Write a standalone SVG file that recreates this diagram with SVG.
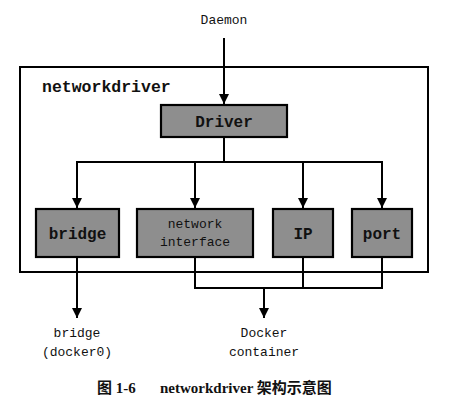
<svg xmlns="http://www.w3.org/2000/svg" width="451" height="410" viewBox="0 0 451 410">
<defs>
<marker id="arr" viewBox="0 0 10 10" refX="10" refY="5" markerWidth="5" markerHeight="5" orient="auto" markerUnits="strokeWidth">
<path d="M0,0 L10,5 L0,10 z" fill="#000"/>
</marker>
<style>
.box{fill:#8e8e8e;stroke:#000;stroke-width:2.2}
.lbl{font-family:"Liberation Mono","DejaVu Sans Mono",monospace;font-size:16px;font-weight:bold;fill:#111;text-anchor:middle}
.sm{font-family:"Liberation Mono","DejaVu Sans Mono",monospace;font-size:13px;fill:#111;text-anchor:middle}
.ln{fill:none;stroke:#000;stroke-width:2}
</style>
</defs>
<rect width="451" height="410" fill="#fff"/>
<g id="networkdriver">
<rect x="20" y="67" width="408" height="205" fill="none" stroke="#000" stroke-width="2"/>
<text x="42" y="92" style="font-family:'Liberation Mono','DejaVu Sans Mono',monospace;font-size:16.5px;font-weight:bold;fill:#111">networkdriver</text>
</g>
<g id="daemon"><text class="sm" x="224" y="24">Daemon</text></g>
<g id="driver"><rect class="box" x="161" y="105" width="126" height="32"/><text class="lbl" x="224" y="127">Driver</text></g>
<g id="bridge"><rect class="box" x="36" y="209" width="83" height="48"/><text class="lbl" x="77.5" y="239">bridge</text></g>
<g id="netif"><rect class="box" x="137" y="209" width="116" height="48"/><text class="sm" x="195" y="228">network</text><text class="sm" x="195" y="246">interface</text></g>
<g id="ip"><rect class="box" x="273" y="209" width="60" height="48"/><text class="lbl" x="303" y="239">IP</text></g>
<g id="port"><rect class="box" x="352" y="209" width="60" height="48"/><text class="lbl" x="382" y="239">port</text></g>
<g id="bridge0"><text class="sm" x="77" y="337">bridge</text><text class="sm" x="77" y="356">(docker0)</text></g>
<g id="container"><text class="sm" x="264" y="337">Docker</text><text class="sm" x="264" y="356">container</text></g>
<g id="connectors">
<line class="ln" x1="224" y1="38" x2="224" y2="104" marker-end="url(#arr)"/>
<polyline class="ln" points="224,137 224,162"/>
<line class="ln" x1="76" y1="162" x2="383" y2="162"/>
<line class="ln" x1="77" y1="162" x2="77" y2="208" marker-end="url(#arr)"/>
<line class="ln" x1="195" y1="162" x2="195" y2="208" marker-end="url(#arr)"/>
<line class="ln" x1="303" y1="162" x2="303" y2="208" marker-end="url(#arr)"/>
<line class="ln" x1="382" y1="162" x2="382" y2="208" marker-end="url(#arr)"/>
<line class="ln" x1="77" y1="257" x2="77" y2="318" marker-end="url(#arr)"/>
<polyline class="ln" points="195,257 195,288 382,288 382,257"/>
<line class="ln" x1="303" y1="257" x2="303" y2="288"/>
<line class="ln" x1="264" y1="288" x2="264" y2="318" marker-end="url(#arr)"/>
</g>
<g id="caption">
<text y="393" style="font-family:'Liberation Serif','Noto Sans CJK SC',serif;font-size:15px;font-weight:bold;fill:#111"><tspan x="97">图 1-6</tspan><tspan x="160">networkdriver 架构示意图</tspan></text>
</g>
</svg>
